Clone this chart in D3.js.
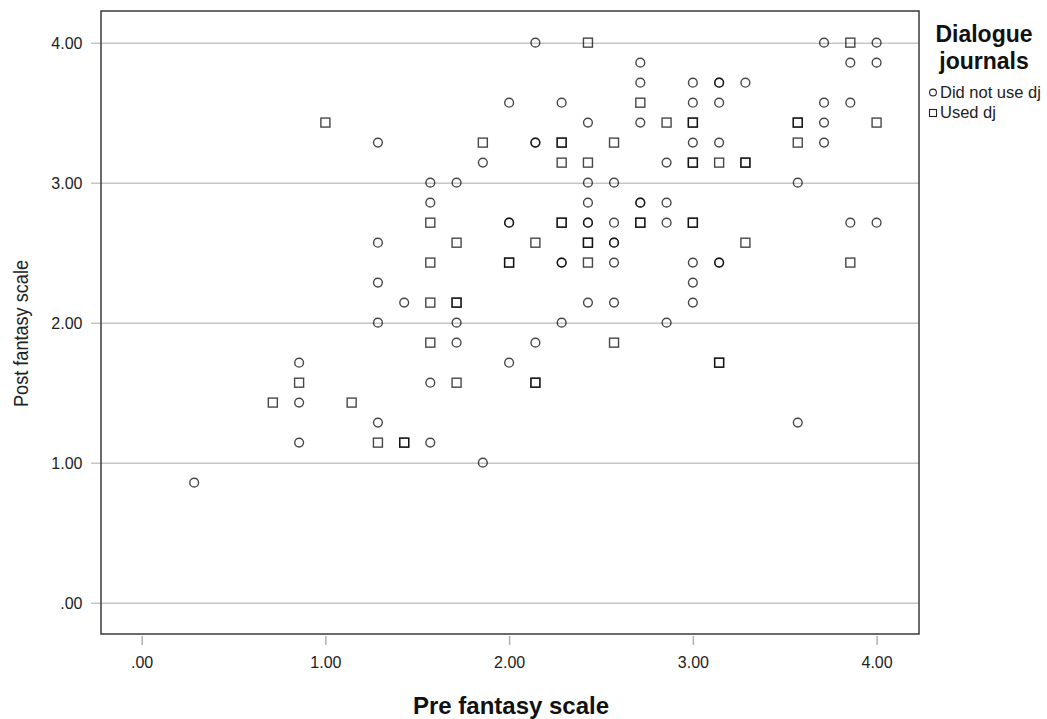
<!DOCTYPE html>
<html>
<head>
<meta charset="utf-8">
<script src="https://cdn.jsdelivr.net/npm/d3@7"></script>
<style>
  html, body { margin: 0; padding: 0; background: #fff; }
  svg { display: block; }
  text { font-family: "Liberation Sans", Arial, sans-serif; }
</style>
</head>
<body>
<svg id="chart" width="1047" height="719"></svg>
<script>
// ---- Data ----
const groups = ["Did not use dj", "Used dj"];

const notUsedPre = [
  0.286,
  0.857, 0.857, 0.857,
  1.286, 1.286, 1.286, 1.286, 1.286,
  1.429,
  1.571, 1.571, 1.571, 1.571,
  1.714, 1.714, 1.714,
  1.857, 1.857,
  2.000, 2.000, 2.000, 2.000,
  2.143, 2.143, 2.143, 2.143,
  2.286, 2.286, 2.286, 2.286,
  2.429, 2.429, 2.429, 2.429, 2.429, 2.429,
  2.571, 2.571, 2.571, 2.571, 2.571, 2.571,
  2.714, 2.714, 2.714, 2.714, 2.714,
  2.857, 2.857, 2.857, 2.857,
  3.000, 3.000, 3.000, 3.000, 3.000, 3.000,
  3.143, 3.143, 3.143, 3.143, 3.143, 3.143,
  3.286,
  3.571, 3.571,
  3.714, 3.714, 3.714, 3.714,
  3.857, 3.857, 3.857,
  4.000, 4.000, 4.000
];
const notUsedPost = [
  0.857,
  1.714, 1.429, 1.143,
  3.286, 2.571, 2.286, 2.000, 1.286,
  2.143,
  3.000, 2.857, 1.571, 1.143,
  3.000, 2.000, 1.857,
  3.143, 1.000,
  3.571, 2.714, 2.714, 1.714,
  4.000, 3.286, 3.286, 1.857,
  3.571, 2.429, 2.429, 2.000,
  3.429, 3.000, 2.857, 2.714, 2.714, 2.143,
  3.000, 2.714, 2.571, 2.571, 2.429, 2.143,
  3.857, 3.714, 3.429, 2.857, 2.857,
  3.143, 2.857, 2.714, 2.000,
  3.714, 3.571, 3.286, 2.429, 2.286, 2.143,
  3.714, 3.714, 3.571, 3.286, 2.429, 2.429,
  3.714,
  3.000, 1.286,
  4.000, 3.571, 3.429, 3.286,
  3.857, 3.571, 2.714,
  4.000, 3.857, 2.714
];

const usedPre = [
  0.714,
  0.857,
  1.000,
  1.143,
  1.286,
  1.429, 1.429,
  1.571, 1.571, 1.571, 1.571,
  1.714, 1.714, 1.714, 1.714,
  1.857,
  2.000, 2.000,
  2.143, 2.143, 2.143,
  2.286, 2.286, 2.286, 2.286, 2.286,
  2.429, 2.429, 2.429, 2.429, 2.429,
  2.571, 2.571,
  2.714, 2.714, 2.714,
  2.857,
  3.000, 3.000, 3.000, 3.000, 3.000, 3.000,
  3.143, 3.143, 3.143,
  3.286, 3.286, 3.286,
  3.571, 3.571, 3.571,
  3.857, 3.857,
  4.000
];
const usedPost = [
  1.429,
  1.571,
  3.429,
  1.429,
  1.143,
  1.143, 1.143,
  2.714, 2.429, 2.143, 1.857,
  2.571, 2.143, 2.143, 1.571,
  3.286,
  2.429, 2.429,
  2.571, 1.571, 1.571,
  3.286, 3.286, 3.143, 2.714, 2.714,
  4.000, 3.143, 2.571, 2.571, 2.429,
  3.286, 1.857,
  3.571, 2.714, 2.714,
  3.429,
  3.429, 3.429, 3.143, 3.143, 2.714, 2.714,
  3.143, 1.714, 1.714,
  3.143, 3.143, 2.571,
  3.429, 3.429, 3.286,
  4.000, 2.429,
  3.429
];

const tickValues = [0, 1, 2, 3, 4];
const xTickLabels = [".00", "1.00", "2.00", "3.00", "4.00"];
const yTickLabels = [".00", "1.00", "2.00", "3.00", "4.00"];
const xTitle = "Pre fantasy scale";
const yTitle = "Post fantasy scale";
const legendTitle = ["Dialogue", "journals"];

// ---- Drawing ----
const svg = d3.select("#chart");
const L = 101, R = 919, T = 11, B = 634;

const x = d3.scaleLinear().domain([-0.2212, 4.2308]).range([L, R]);
const y = d3.scaleLinear().domain([-0.224, 4.226]).range([B, T]);

// gridlines + left ticks (via axis)
const yAxis = d3.axisLeft(y)
  .tickValues(tickValues)
  .tickSize(-(R - L) - 10)
  .tickFormat((d, i) => yTickLabels[i]);
const gy = svg.append("g").attr("transform", `translate(${R},0)`).call(yAxis);
gy.select(".domain").remove();
gy.selectAll(".tick line")
  .attr("x1", 0).attr("x2", -(R - L) - 10)
  .attr("stroke", "#c6c6c6").attr("stroke-width", 1.5);
gy.selectAll(".tick text")
  .attr("x", -(R - 82.5)).attr("dy", "0.36em")
  .attr("text-anchor", "end")
  .attr("fill", "#222").style("font-size", "16px")
  .style("font-family", "'Liberation Sans', Arial, sans-serif");

// x ticks (below frame)
const xAxis = d3.axisBottom(x)
  .tickValues(tickValues)
  .tickSize(9)
  .tickFormat((d, i) => xTickLabels[i]);
const gx = svg.append("g").attr("transform", `translate(0,${B + 2})`).call(xAxis);
gx.select(".domain").remove();
gx.selectAll(".tick line").attr("stroke", "#b0b0b0").attr("stroke-width", 1.5);
gx.selectAll(".tick text")
  .attr("y", 0).attr("dy", 0)
  .attr("transform", "translate(0,32)")
  .attr("fill", "#222").style("font-size", "16px")
  .style("font-family", "'Liberation Sans', Arial, sans-serif");

// frame
svg.append("rect")
  .attr("x", L).attr("y", T).attr("width", R - L).attr("height", B - T)
  .attr("fill", "none").attr("stroke", "#3a3a3a").attr("stroke-width", 1.5);

// points
const circles = notUsedPre.map((d, i) => ({ pre: d, post: notUsedPost[i] }));
const squares = usedPre.map((d, i) => ({ pre: d, post: usedPost[i] }));

const pts = svg.append("g");
pts.selectAll("circle.nu").data(circles).join("circle")
  .attr("class", "nu")
  .attr("cx", d => x(d.pre)).attr("cy", d => y(d.post))
  .attr("r", 4.4)
  .attr("fill", "none").attr("stroke", "#000")
  .attr("stroke-opacity", 0.72).attr("stroke-width", 1.4);

const s = 9;
pts.selectAll("rect.u").data(squares).join("rect")
  .attr("class", "u")
  .attr("x", d => x(d.pre) - s / 2).attr("y", d => y(d.post) - s / 2)
  .attr("width", s).attr("height", s)
  .attr("fill", "none").attr("stroke", "#000")
  .attr("stroke-opacity", 0.72).attr("stroke-width", 1.4);

// axis titles
svg.append("text")
  .attr("x", 511).attr("y", 714)
  .attr("text-anchor", "middle")
  .style("font-size", "24px").style("font-weight", "bold")
  .attr("fill", "#111")
  .text(xTitle);

svg.append("text")
  .attr("transform", "translate(28,333.5) rotate(-90)")
  .attr("text-anchor", "middle")
  .style("font-size", "21px")
  .attr("textLength", 147).attr("lengthAdjust", "spacingAndGlyphs")
  .attr("fill", "#222")
  .text(yTitle);

// legend
const lg = svg.append("g");
lg.append("rect")
  .attr("x", R + 1).attr("y", 0).attr("width", 1047 - R - 1).attr("height", 143)
  .attr("fill", "#fff");
lg.selectAll("text.lt").data(legendTitle).join("text")
  .attr("class", "lt")
  .attr("x", 984).attr("y", (d, i) => 42 + i * 27)
  .attr("text-anchor", "middle")
  .style("font-size", "23px").style("font-weight", "bold")
  .attr("fill", "#111")
  .text(d => d);

lg.append("circle")
  .attr("cx", 933).attr("cy", 92.5).attr("r", 3.4)
  .attr("fill", "none").attr("stroke", "#222").attr("stroke-width", 1.1);
lg.append("rect")
  .attr("x", 929.5).attr("y", 109.5).attr("width", 7).attr("height", 7)
  .attr("fill", "none").attr("stroke", "#222").attr("stroke-width", 1.1);
lg.selectAll("text.li").data(groups).join("text")
  .attr("class", "li")
  .attr("x", 940).attr("y", (d, i) => 98 + i * 20)
  .style("font-size", "16.5px")
  .attr("fill", "#222")
  .text(d => d);
</script>
</body>
</html>
